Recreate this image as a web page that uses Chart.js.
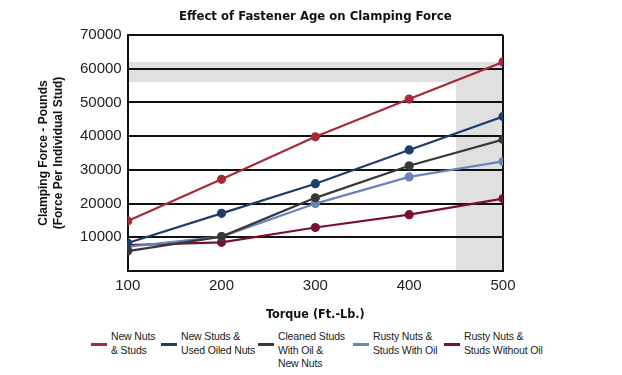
<!DOCTYPE html>
<html><head><meta charset="utf-8">
<script src="https://cdn.jsdelivr.net/npm/chart.js@4/dist/chart.umd.min.js"></script>
<style>
html,body{margin:0;padding:0;background:#fff;}
#wrap{position:relative;width:622px;height:375px;}
#c{position:absolute;left:0;top:0;}
#legend{position:absolute;left:0;top:330px;width:622px;height:45px;font-family:"Liberation Sans",sans-serif;font-size:10.5px;line-height:13.5px;color:#222;}
.item{position:absolute;top:0;white-space:nowrap;display:flex;align-items:flex-start;}
.item:nth-child(1){left:91px;}
.item:nth-child(2){left:161px;}
.item:nth-child(3){left:258px;}
.item:nth-child(4){left:353px;}
.item:nth-child(5){left:444px;}
.sw{width:16px;height:3px;margin-top:13px;margin-right:4px;}
.tx{letter-spacing:-0.15px;}
</style></head><body>
<div id="wrap"><canvas id="c" width="622" height="330"></canvas><div id="legend"></div></div>
<script>
const torque = [100, 200, 300, 400, 500];
const chartTitle = 'Effect of Fastener Age on Clamping Force';
const seriesNames = [
  ["New Nuts", "& Studs"],
  ["New Studs &", "Used Oiled Nuts"],
  ["Cleaned Studs", "With Oil &", "New Nuts"],
  ["Rusty Nuts &", "Studs With Oil"],
  ["Rusty Nuts &", "Studs Without Oil"]
];
const newNutsStuds = [14800, 27200, 39800, 51000, 62000];
const newStudsUsedOiledNuts = [8300, 17100, 25900, 35900, 45800];
const cleanedStudsOilNewNuts = [5900, 10200, 21700, 31200, 39000];
const rustyWithOil = [7200, 10200, 20000, 27900, 32500];
const rustyWithoutOil = [7700, 8500, 12900, 16700, 21500];
const yTicks = [10000, 20000, 30000, 40000, 50000, 60000, 70000];
const bandH = [56000, 62000];
const bandV = [450, 500];
const colors = ["#a52a3a", "#1f3d6b", "#383838", "#6a83bd", "#7a1030"];
const values = [newNutsStuds, newStudsUsedOiledNuts, cleanedStudsOilNewNuts, rustyWithOil, rustyWithoutOil];

const bands = {
  id: 'bands',
  beforeDraw(chart) {
    const {ctx, scales: {x, y}} = chart;
    ctx.save();
    ctx.fillStyle = '#e0e0e0';
    const x0 = x.getPixelForValue(100), x1 = x.getPixelForValue(500);
    ctx.fillRect(x0, y.getPixelForValue(bandH[1]), x1 - x0, y.getPixelForValue(bandH[0]) - y.getPixelForValue(bandH[1]));
    const vx0 = x.getPixelForValue(bandV[0]), vx1 = x.getPixelForValue(bandV[1]);
    ctx.fillRect(vx0, y.getPixelForValue(bandH[0]), vx1 - vx0, y.getPixelForValue(0) - y.getPixelForValue(bandH[0]));
    ctx.restore();
  }
};
const centeredTitle = {
  id: 'centeredTitle',
  afterDraw(chart) {
    const {ctx, chartArea} = chart;
    ctx.save();
    ctx.font = 'bold 13px "DejaVu Sans Condensed", sans-serif';
    ctx.fillStyle = '#111';
    ctx.textAlign = 'center';
    ctx.textBaseline = 'middle';
    ctx.fillText(chartTitle, (chartArea.left + chartArea.right) / 2, 17);
    ctx.restore();
  }
};

new Chart(document.getElementById('c'), {
  type: 'line',
  data: {
    datasets: values.map((v, i) => ({
      label: seriesNames[i].join(' '),
      data: v.map((val, j) => ({x: torque[j], y: val})),
      borderColor: colors[i],
      backgroundColor: colors[i],
      borderWidth: 2.2,
      pointRadius: 3.5,
      pointHoverRadius: 3.5,
      tension: 0
    }))
  },
  options: {
    responsive: false,
    animation: false,
    layout: {padding: {left: 36, right: 119, top: 35, bottom: 8}},
    plugins: {
      legend: {display: false},
      tooltip: {enabled: false},
      title: {display: false}
    },
    scales: {
      x: {
        type: 'linear', min: 100, max: 500,
        ticks: {stepSize: 100, color: '#222', font: {family: 'Liberation Sans', size: 15}, padding: 6},
        grid: {drawTicks: false, color: ctx => (ctx.tick && ctx.tick.value === 500) ? '#111' : 'rgba(0,0,0,0)', lineWidth: 2},
        border: {display: true, color: '#111', width: 2},
        title: {display: true, text: 'Torque (Ft.-Lb.)', color: '#111',
          font: {family: '"DejaVu Sans Condensed",sans-serif', size: 12.5, weight: 'bold'}, padding: {top: 6, bottom: 0}}
      },
      y: {
        min: 0, max: 70000,
        afterBuildTicks: s => { s.ticks = [0].concat(yTicks).map(v => ({value: v})); },
        ticks: {color: '#222', font: {family: 'Liberation Sans', size: 15}, padding: 6,
          callback: v => v === 0 ? '' : String(v)},
        grid: {drawTicks: false, color: '#111', lineWidth: 2},
        border: {display: true, color: '#111', width: 2},
        title: {display: true, text: ['Clamping Force - Pounds', '(Force Per Individual Stud)'], color: '#111',
          font: {family: 'Liberation Sans', size: 12, weight: 'bold', lineHeight: 1.25}, padding: {top: 0, bottom: 8}}
      }
    }
  },
  plugins: [bands, centeredTitle]
});

const leg = document.getElementById('legend');
seriesNames.forEach((lines, i) => {
  const it = document.createElement('div'); it.className = 'item';
  const sw = document.createElement('div'); sw.className = 'sw'; sw.style.background = colors[i];
  const tx = document.createElement('div'); tx.className = 'tx'; tx.innerHTML = lines.join('<br>');
  it.appendChild(sw); it.appendChild(tx); leg.appendChild(it);
});
</script>
</body></html>
